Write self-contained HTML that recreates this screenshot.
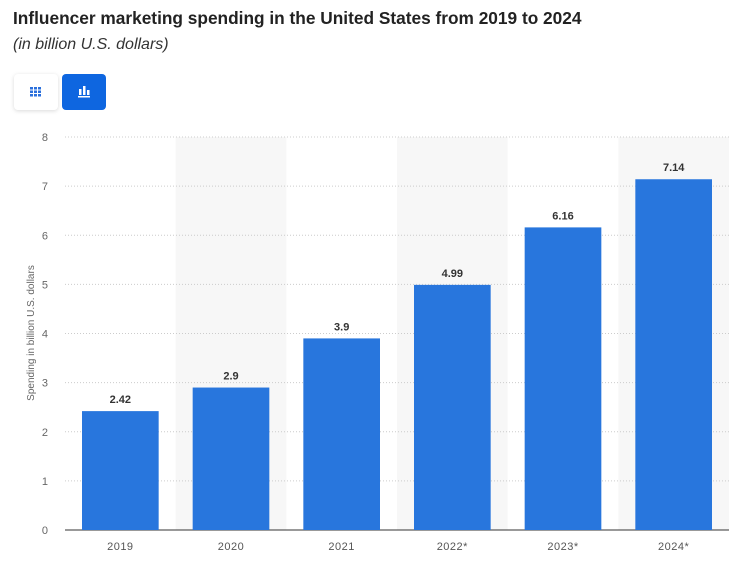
<!DOCTYPE html>
<html><head><meta charset="utf-8">
<style>
body{margin:0;width:747px;height:563px;background:#fff;font-family:"Liberation Sans",sans-serif;overflow:hidden;position:relative}
.title{position:absolute;left:13px;top:8px;font-size:17.3px;font-weight:bold;color:#222}
.sub{position:absolute;left:13px;top:36px;font-size:16px;font-style:italic;color:#333}
.btn{position:absolute;top:74px;width:44px;height:36px;border-radius:4px}
</style></head><body>
<div class="title">Influencer marketing spending in the United States from 2019 to 2024</div>
<div class="sub">(in billion U.S. dollars)</div>
<div class="btn" style="left:14px;background:#fff;box-shadow:0 1px 4px rgba(0,0,0,.15)">
<svg width="44" height="36"><g fill="#2a6fdc"><rect x="16" y="13" width="3" height="2.5"/><rect x="20" y="13" width="3" height="2.5"/><rect x="24" y="13" width="3" height="2.5"/><rect x="16" y="16.5" width="3" height="2.5"/><rect x="20" y="16.5" width="3" height="2.5"/><rect x="24" y="16.5" width="3" height="2.5"/><rect x="16" y="20" width="3" height="2.5"/><rect x="20" y="20" width="3" height="2.5"/><rect x="24" y="20" width="3" height="2.5"/></g></svg></div>
<div class="btn" style="left:62px;background:#0e66e0">
<svg width="44" height="36"><g fill="#fff"><rect x="17" y="15" width="2.5" height="6"/><rect x="21" y="12" width="2.5" height="9"/><rect x="25" y="16" width="2.5" height="5"/><rect x="16" y="22" width="12" height="1.5"/></g></svg></div>
<svg id="chart" width="747" height="563" style="position:absolute;left:0;top:0"></svg>
<script>
const categories=["2019","2020","2021","2022*","2023*","2024*"];
const values=[2.42,2.9,3.9,4.99,6.16,7.14];
const labels=["2.42","2.9","3.9","4.99","6.16","7.14"];
const yTicks=[0,1,2,3,4,5,6,7,8];
const NS="http://www.w3.org/2000/svg";
const svg=document.getElementById("chart");
const x0=65,x1=729,y0=530,y1=137,yMax=8;
const bw=(x1-x0)/categories.length;
function y(v){return y0-(v/yMax)*(y0-y1);}
function xBand(i){return x0+i*bw;}
function mk(t,a,p){const e=document.createElementNS(NS,t);for(const k in a)e.setAttribute(k,a[k]);(p||svg).appendChild(e);return e;}
categories.forEach((c,i)=>{if(i%2===1){const r=mk("rect",{x:xBand(i),y:y1,width:bw,height:y0-y1,fill:"#f7f7f7"});

}});
yTicks.forEach(t=>{
const l=mk("line",{x1:x0,x2:x1,y1:y(t),y2:y(t),stroke:t===0?"#333":"#ccc","stroke-dasharray":t===0?"":"1,2","stroke-width":1});


const tx=mk("text",{x:48,y:y(t)+4,"text-anchor":"end","font-size":"11",fill:"#666"});tx.textContent=t;


});
const yt=mk("text",{transform:"translate(34,333) rotate(-90)","text-anchor":"middle","font-size":"10",fill:"#666"});
yt.textContent="Spending in billion U.S. dollars";


categories.forEach((c,i)=>{
const bx=xBand(i)+17,w=bw-34;
const r=mk("rect",{x:bx,y:y(values[i]),width:w,height:y0-y(values[i]),fill:"#2876dd"});


const v=mk("text",{x:bx+w/2,y:y(values[i])-8,"text-anchor":"middle","font-size":"11","font-weight":"bold",fill:"#333"});v.textContent=labels[i];


const xl=mk("text",{x:bx+w/2,y:550,"text-anchor":"middle","font-size":"11",fill:"#555","letter-spacing":"0.5"});xl.textContent=c;


});
</script>
</body></html>
